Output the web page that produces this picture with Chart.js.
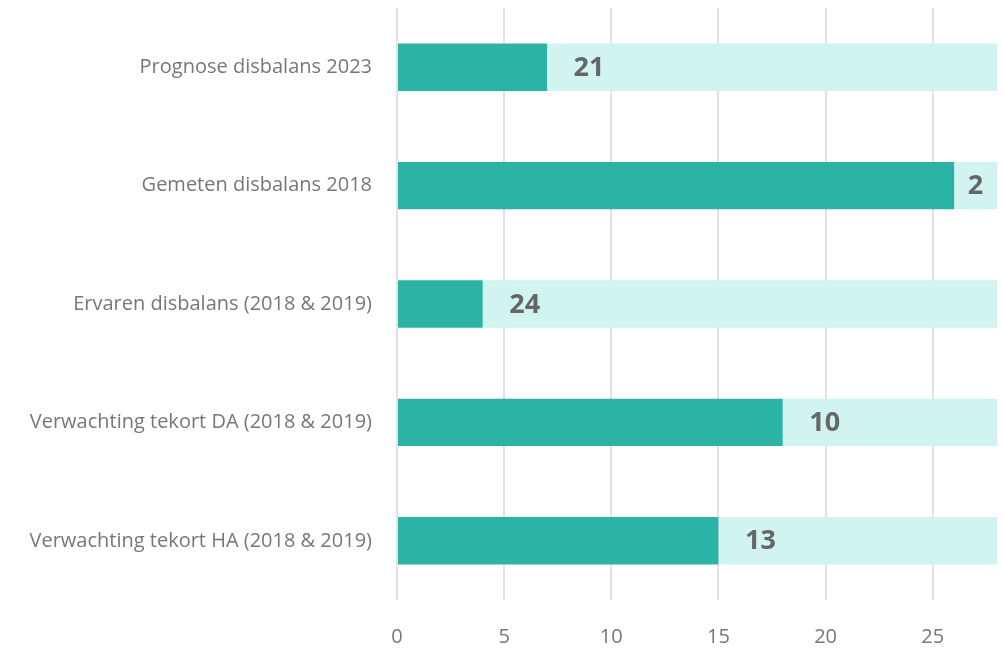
<!DOCTYPE html>
<html>
<head>
<meta charset="utf-8">
<script src="https://cdn.jsdelivr.net/npm/chart.js@4"></script>
<style>
  html, body { margin: 0; padding: 0; background: #fff; }
</style>
</head>
<body>
<canvas id="chart" width="1004" height="648"></canvas>
<script>
var categories = [
  'Prognose disbalans 2023',
  'Gemeten disbalans 2018',
  'Ervaren disbalans (2018 & 2019)',
  'Verwachting tekort DA (2018 & 2019)',
  'Verwachting tekort HA (2018 & 2019)'
];
var darkValues = [7, 26, 4, 18, 15];
var lightValues = [21, 2, 24, 10, 13];
var xTicks = [0, 5, 10, 15, 20, 25];

// label drawn in the light segment, a little after its start
var segmentLabels = {
  id: 'segmentLabels',
  afterDatasetsDraw: function (chart) {
    var ctx = chart.ctx;
    var meta = chart.getDatasetMeta(1);
    ctx.save();
    ctx.font = 'bold 27px "Open Sans", sans-serif';
    ctx.fillStyle = '#666666';
    ctx.textAlign = 'center';
    ctx.textBaseline = 'middle';
    meta.data.forEach(function (bar, i) {
      var start = bar.base;
      var w = bar.x - bar.base;
      var cx = start + Math.min(42, w / 2);
      ctx.fillText(String(lightValues[i]), cx, bar.y + 1);
    });
    ctx.restore();
  }
};

var ctx = document.getElementById('chart').getContext('2d');
var chart = new Chart(ctx, {
  type: 'bar',
  data: {
    labels: categories,
    datasets: [{
      data: darkValues,
      backgroundColor: '#2bb3a6',
      barPercentage: 0.4,
      categoryPercentage: 1
    }, {
      data: lightValues,
      backgroundColor: '#d1f4f1',
      barPercentage: 0.4,
      categoryPercentage: 1
    }]
  },
  options: {
    indexAxis: 'y',
    responsive: false,
    animation: false,
    layout: { padding: { top: 8, right: 7, left: 0, bottom: 0 } },
    scales: {
      x: {
        stacked: true,
        min: 0,
        max: 28,
        afterBuildTicks: function (scale) {
          scale.ticks = xTicks.map(function (v) { return { value: v }; });
        },
        afterFit: function (scale) { scale.height = 48; },
        grid: {
          color: '#e3e3e3',
          lineWidth: 2,
          drawTicks: false
        },
        border: { display: false },
        ticks: {
          padding: 25,
          color: '#777777',
          font: { family: '"Open Sans", sans-serif', size: 20 }
        }
      },
      y: {
        stacked: true,
        afterFit: function (scale) {
          scale.width = 397;
          scale.paddingTop = 0;
          scale.paddingBottom = 0;
        },
        grid: { display: false },
        border: { display: false },
        ticks: {
          padding: 17,
          color: '#777777',
          font: { family: '"Open Sans", sans-serif', size: 20 }
        }
      }
    },
    plugins: {
      legend: { display: false },
      tooltip: { enabled: false }
    }
  },
  plugins: [segmentLabels]
});
</script>
</body>
</html>
